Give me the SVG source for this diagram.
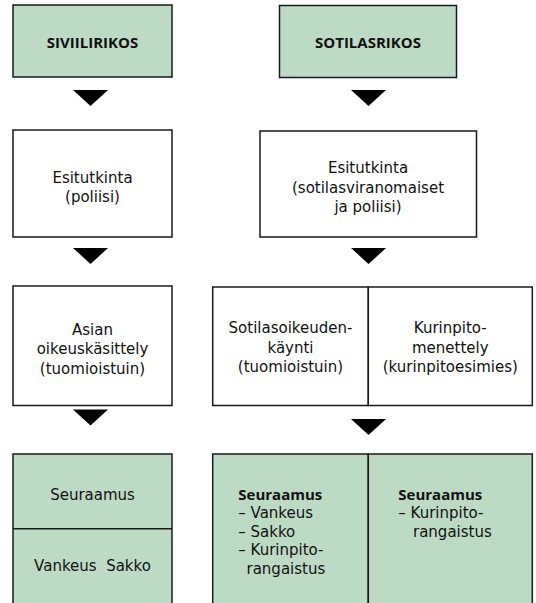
<svg xmlns="http://www.w3.org/2000/svg" width="536" height="603" viewBox="0 0 536 603">
<style>
.box{fill:#fff;stroke:#1a1a1a;stroke-width:1.5}
.g{fill:#bddbc4;stroke:#1a1a1a;stroke-width:1.5}
.ln{stroke:#1a1a1a;stroke-width:1.5;fill:none}
text{font-family:"DejaVu Sans","Open Sans",sans-serif;font-size:15px;fill:#111}
.c{text-anchor:middle}
.b{font-family:"Open Sans","Noto Sans",sans-serif;font-weight:bold;font-size:15px}
.arr{fill:#000}
</style>
<rect width="536" height="603" fill="#fff"/>
<g id="siviilirikos">
<rect class="g" x="13" y="5" width="159" height="72"/>
<text class="c b" x="92.5" y="47.5">SIVIILIRIKOS</text>
</g>
<g id="sotilasrikos">
<rect class="g" x="279.5" y="5.5" width="177" height="72"/>
<text class="c b" x="368" y="47.5">SOTILASRIKOS</text>
</g>
<g id="esitutkinta-poliisi">
<rect class="box" x="13" y="130" width="159" height="107"/>
<text class="c" x="92.5" y="183">Esitutkinta</text>
<text class="c" x="92.5" y="202">(poliisi)</text>
</g>
<g id="esitutkinta-sotilas">
<rect class="box" x="260" y="131" width="216.5" height="106"/>
<text class="c" x="368" y="173">Esitutkinta</text>
<text class="c" x="368" y="192.5">(sotilasviranomaiset</text>
<text class="c" x="368" y="212">ja poliisi)</text>
</g>
<g id="asian-oikeuskasittely">
<rect class="box" x="13" y="286" width="159" height="119.5"/>
<text class="c" x="92.5" y="334.5">Asian</text>
<text class="c" x="92.5" y="354">oikeuskäsittely</text>
<text class="c" x="92.5" y="373.5">(tuomioistuin)</text>
</g>
<g id="sotilasoikeudenkaynti">
<rect class="box" x="212.7" y="287" width="155.6" height="118.5"/>
<text class="c" x="290.5" y="333">Sotilasoikeuden-</text>
<text class="c" x="290.5" y="352.5">käynti</text>
<text class="c" x="290.5" y="372">(tuomioistuin)</text>
</g>
<g id="kurinpitomenettely">
<rect class="box" x="368.3" y="287" width="164" height="118.5"/>
<text class="c" x="450.3" y="333">Kurinpito-</text>
<text class="c" x="450.3" y="352.5">menettely</text>
<text class="c" x="450.3" y="372">(kurinpitoesimies)</text>
</g>
<g id="seuraamus-siviili">
<rect class="g" x="13" y="454" width="159" height="160"/>
<line class="ln" x1="13" y1="528.7" x2="172" y2="528.7"/>
<text class="c" x="92.5" y="499.5">Seuraamus</text>
<text class="c" x="92.5" y="571" xml:space="preserve">Vankeus  Sakko</text>
</g>
<g id="seuraamus-sotilasoikeus">
<rect class="g" x="212.7" y="454" width="155.6" height="160"/>
<text x="238.3" y="499.5" class="b">Seuraamus</text>
<text x="238.3" y="518">– Vankeus</text>
<text x="238.3" y="536.5">– Sakko</text>
<text x="238.3" y="555">– Kurinpito-</text>
<text x="246.5" y="573.5">rangaistus</text>
</g>
<g id="seuraamus-kurinpito">
<rect class="g" x="368.3" y="454" width="164" height="160"/>
<text x="398.3" y="499.5" class="b">Seuraamus</text>
<text x="398.3" y="518">– Kurinpito-</text>
<text x="413" y="536.5">rangaistus</text>
</g>
<g id="connectors">
<polygon class="arr" points="73,90 108,90 90.5,106"/>
<polygon class="arr" points="351,90 386,90 368.5,106"/>
<polygon class="arr" points="73,248 108,248 90.5,264"/>
<polygon class="arr" points="351,248 386,248 368.5,264"/>
<polygon class="arr" points="73,409.5 108,409.5 90.5,425.5"/>
<polygon class="arr" points="351,419 386,419 368.5,435"/>
</g>
</svg>
